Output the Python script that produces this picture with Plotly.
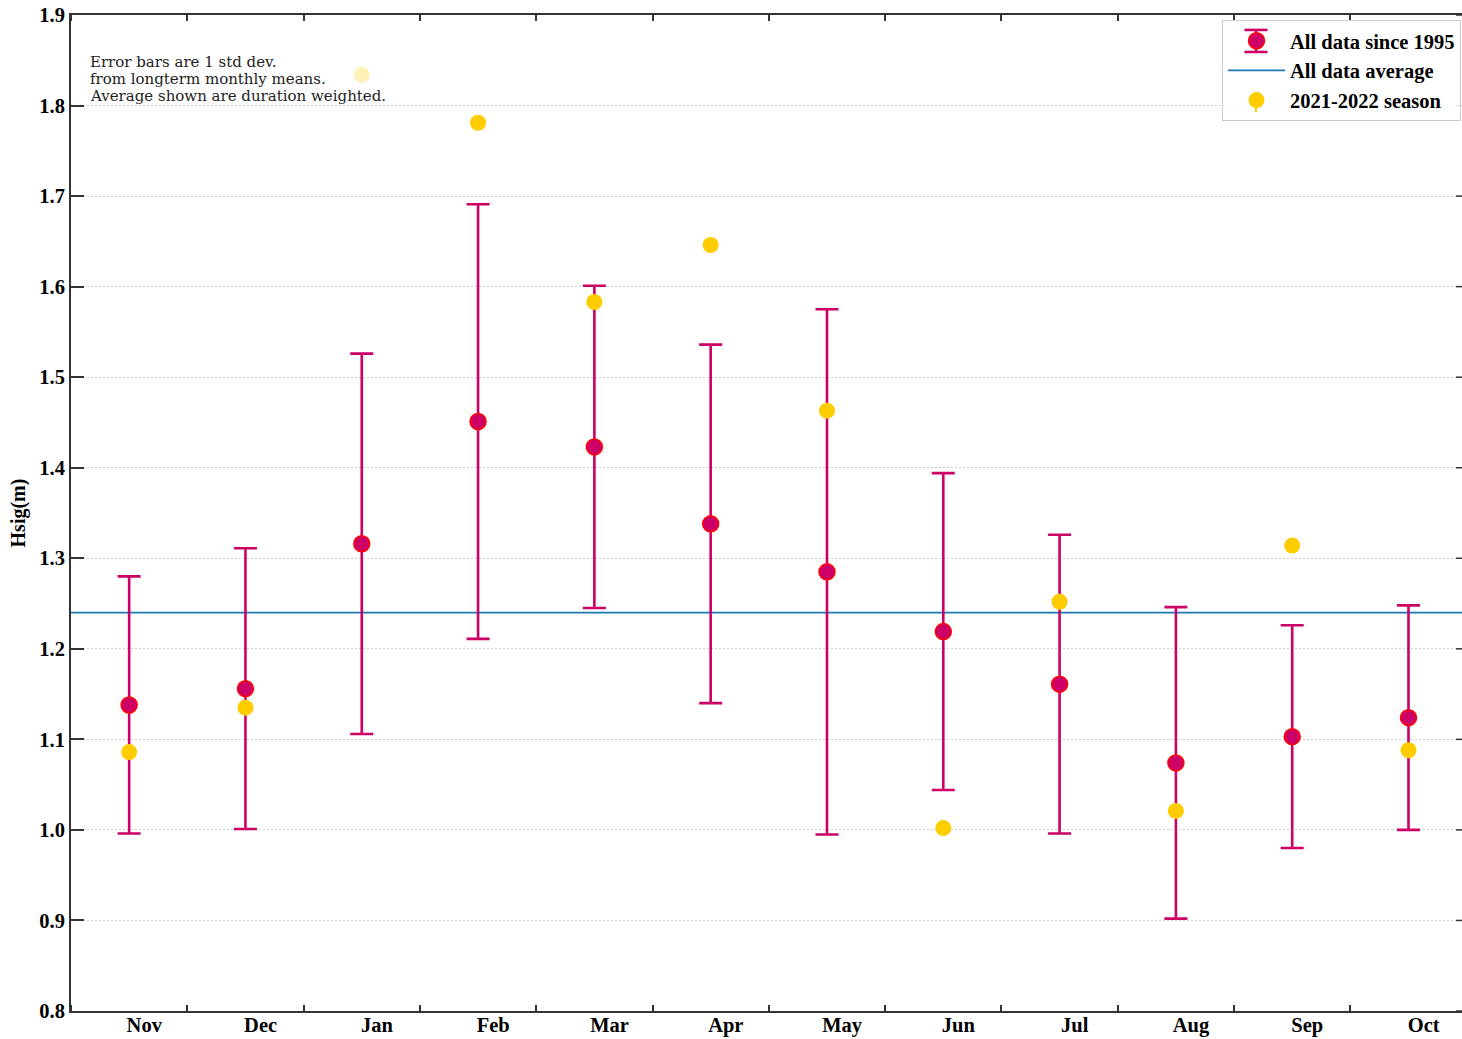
import plotly.graph_objects as go

months = ["Nov", "Dec", "Jan", "Feb", "Mar", "Apr", "May", "Jun", "Jul", "Aug", "Sep", "Oct"]
longterm_mean = [1.138, 1.156, 1.316, 1.451, 1.423, 1.338, 1.285, 1.219, 1.161, 1.074, 1.103, 1.124]
longterm_std = [0.142, 0.155, 0.210, 0.240, 0.178, 0.198, 0.290, 0.175, 0.165, 0.172, 0.123, 0.124]
season_2122 = [1.086, 1.135, 1.834, 1.781, 1.583, 1.646, 1.463, 1.002, 1.252, 1.021, 1.314, 1.088]
overall_average = 1.24
y_ticks = [0.8, 0.9, 1.0, 1.1, 1.2, 1.3, 1.4, 1.5, 1.6, 1.7, 1.8, 1.9]
note_lines = ["Error bars are 1 std dev.",
              "from longterm monthly means.",
              "Average shown are duration weighted."]

x_idx = list(range(len(months)))
x_range = [-0.5, len(months) - 0.54]

SERIF = "Liberation Serif"
MAG = "#cc0066"
YEL = "#ffcc00"
AX = "#333333"

fig = go.Figure()

fig.add_trace(go.Scatter(
    x=x_range, y=[overall_average, overall_average], mode="lines",
    line=dict(color="#1f77b4", width=1.8), name="All data average",
    legendrank=2,
))

fig.add_trace(go.Scatter(
    x=x_idx, y=longterm_mean, mode="markers", name="All data since 1995",
    marker=dict(size=16, color=MAG, line=dict(color="#ff0000", width=1.5)),
    error_y=dict(type="data", array=longterm_std, visible=True, color=MAG,
                 thickness=2.6, width=11.5),
    legendrank=1,
))

fig.add_trace(go.Scatter(
    x=x_idx, y=season_2122, mode="markers", name="2021-2022 season",
    marker=dict(size=16, color=YEL),
    legendrank=3,
))

# right-side inner ticks (axis spine lies just beyond the canvas)
for v in y_ticks:
    fig.add_shape(type="line", xref="paper", yref="y", xsizemode="pixel",
                  xanchor=1, x0=-6, x1=0, y0=v, y1=v,
                  line=dict(color=AX, width=1.5))

# semi-transparent box behind the note (drawn above the data)
fig.add_shape(type="rect", xref="paper", yref="paper",
              x0=0.0093, x1=0.2257, y0=0.9106, y1=0.9629,
              fillcolor="rgba(255,255,255,0.72)", line=dict(width=0),
              layer="above")

# legend background + error-bar glyphs for legend symbols
fig.add_shape(type="rect", xref="paper", yref="paper",
              x0=0.8282, x1=1.0, y0=0.8946, y1=0.994,
              fillcolor="rgba(255,255,255,0.85)", line=dict(width=0),
              layer="above")
LX = 0.8519
fig.add_shape(type="line", xref="paper", yref="paper", x0=LX, x1=LX,
              y0=0.9629, y1=0.9850, line=dict(color=MAG, width=2.6), layer="above")
for yy in (0.9629, 0.9850):
    fig.add_shape(type="line", xref="paper", yref="paper", x0=LX - 0.0083, x1=LX + 0.0083,
                  y0=yy, y1=yy, line=dict(color=MAG, width=2.6), layer="above")
fig.add_shape(type="line", xref="paper", yref="paper", x0=LX, x1=LX,
              y0=0.9025, y1=0.9225, line=dict(color=YEL, width=2), layer="above")

for k, line in enumerate(note_lines):
    fig.add_annotation(
        xref="paper", yref="paper", x=0.0122, y=0.9528 - k * 0.0171,
        xanchor="left", yanchor="middle", text=line, showarrow=False,
        font=dict(family="DejaVu Serif", size=15, color="#222222"),
    )

fig.update_layout(
    width=1462, height=1039,
    margin=dict(l=71, r=0, t=15, b=28, autoexpand=False),
    plot_bgcolor="white", paper_bgcolor="white",
    font=dict(family=SERIF, size=20, color="black"),
    legend=dict(
        x=0.9993, y=0.995, xanchor="right", yanchor="top",
        bgcolor="rgba(255,255,255,0)", bordercolor="#cccccc", borderwidth=1,
        font=dict(family=SERIF, size=20.5, color="black", weight="bold"),
        itemwidth=57,
    ),
    showlegend=True,
)

fig.update_xaxes(
    range=x_range, tickmode="array",
    tickvals=[i + 0.13 for i in x_idx], ticktext=months,
    ticks="", showgrid=False, zeroline=False, automargin=False,
    showline=True, linewidth=2, linecolor=AX, mirror="ticks",
    ticklabelstandoff=-6,
    tickfont=dict(family=SERIF, size=20.5, color="black", weight="bold"),
    minor=dict(tickmode="linear", tick0=0.5, dtick=1, ticks="inside",
               ticklen=6, tickwidth=1.5, tickcolor=AX, showgrid=False),
)

fig.update_yaxes(
    range=[0.8, 1.9], tickmode="array", tickvals=y_ticks,
    ticktext=[f"{v:.1f}" for v in y_ticks],
    ticks="inside", ticklen=13, tickwidth=1.5, tickcolor=AX,
    showline=True, linewidth=2, linecolor=AX, mirror=False,
    showgrid=True, gridcolor="#cfcfcf", griddash="2px,2px", gridwidth=1,
    zeroline=False, automargin=False,
    tickfont=dict(family=SERIF, size=20.5, color="black", weight="bold"),
    title=dict(text="Hsig(m)", standoff=8,
               font=dict(family=SERIF, size=20, color="black", weight="bold")),
)

fig.write_html("out.html", config={"displayModeBar": False},
               post_script="document.body.style.margin='0';document.body.style.overflow='hidden';")
